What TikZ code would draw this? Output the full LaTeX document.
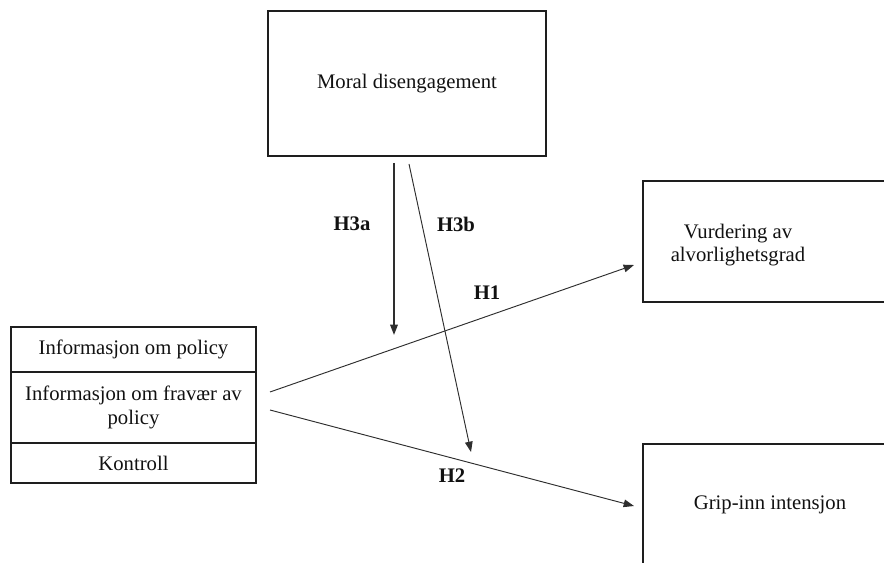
\documentclass[tikz,border=0pt]{standalone}
\usepackage{fontspec}
\setmainfont{Liberation Serif}
\usetikzlibrary{arrows.meta,positioning}
\newcommand{\pxu}{0.58pt}
\definecolor{linecolor}{HTML}{1E1E1E}
\definecolor{arrowcolor}{HTML}{2E2E2E}
\definecolor{textcolor}{HTML}{111111}
\tikzset{
  varbox/.style={draw=linecolor, line width=0.9pt, rectangle, inner sep=0pt, outer sep=0pt,
    font=\fontsize{12}{13.5}\selectfont\color{textcolor}, align=center},
  rowbox/.style={varbox, minimum width=245*\pxu},
  boxtext/.style={font=\fontsize{12}{13.5}\selectfont\color{textcolor}, align=center},
  hyparrow/.style={draw=arrowcolor, line width=0.55pt, -{Triangle[length=6pt,width=4.4pt]}},
  hyplabel/.style={font=\bfseries\fontsize{12}{14}\selectfont\color{textcolor}}
}
\begin{document}
\begin{tikzpicture}[x=\pxu, y=-\pxu]
  \useasboundingbox (0,0) rectangle (884,563);
  \clip (0,0) rectangle (884,563);

  % === MODERATOR ===
  \node[varbox, minimum width=278*\pxu, minimum height=145*\pxu] (moral) at (407,83.5) {Moral disengagement};

  % === OUTCOMES (cut at the page edge) ===
  \node[varbox, anchor=north west, minimum width=270*\pxu, minimum height=121*\pxu] (vurd) at (643,181) {};
  \node[boxtext] (vurdtext) at (738,245) {Vurdering av\\alvorlighetsgrad};
  \node[varbox, anchor=north west, minimum width=270*\pxu, minimum height=150*\pxu] (grip) at (643,444) {};
  \node[boxtext] (griptext) at (770,505) {Grip-inn intensjon};

  % === CONDITIONS ===
  \node[rowbox, anchor=north west, minimum height=45*\pxu] (policy) at (11,327) {Informasjon om policy};
  \node[rowbox, minimum height=71*\pxu, below=0pt of policy] (fravaer) {Informasjon om fravær av\\policy};
  \node[rowbox, minimum height=40*\pxu, below=0pt of fravaer] (kontroll) {Kontroll};

  % === PATHS ===
  \coordinate (h1tail) at (270,392);
  \coordinate (h1tip) at (634,265);
  \coordinate (h2tail) at (270,410);
  \coordinate (h2tip) at (634,506);
  \coordinate (h3atop) at (394,163);
  \coordinate (h3atip) at (394,335);
  \coordinate (h3btop) at (409,164);
  \coordinate (h3btip) at (471,452);

  \draw[hyparrow] (h1tail) -- (h1tip);
  \draw[hyparrow] (h2tail) -- (h2tip);
  \draw[hyparrow, line width=0.9pt] (h3atop) -- (h3atip);
  \draw[hyparrow] (h3btop) -- (h3btip);

  \node[hyplabel] (h3alabel) at (352,224) {H3a};
  \node[hyplabel] (h3blabel) at (456,224) {H3b};
  \node[hyplabel] (h1label) at (487,293) {H1};
  \node[hyplabel] (h2label) at (452,476) {H2};
\end{tikzpicture}
\end{document}
